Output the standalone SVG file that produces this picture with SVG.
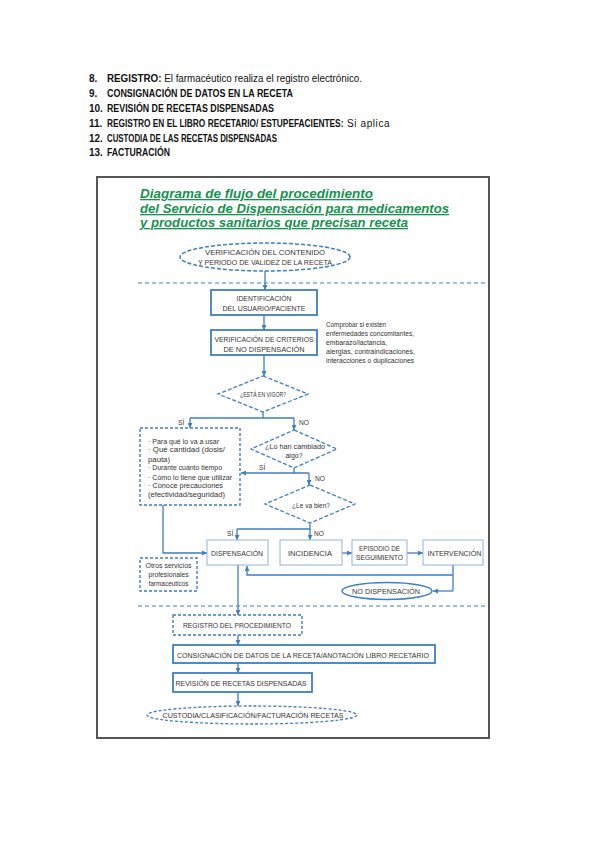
<svg xmlns="http://www.w3.org/2000/svg" width="599" height="848" viewBox="0 0 599 848">
<style>
.lst{font-family:"Liberation Sans",Arial,sans-serif;font-size:10px;fill:#111}
.b{font-weight:bold}
.n{font-weight:normal}
.ttl{font-family:"Liberation Sans",Arial,sans-serif;font-size:13px;font-weight:bold;font-style:italic;fill:#16924f;text-decoration:underline}
.t{font-family:"Liberation Sans",Arial,sans-serif;font-size:6.6px;fill:#333;text-anchor:middle}
.tl{font-family:"Liberation Sans",Arial,sans-serif;font-size:6.6px;fill:#333}
.box{fill:#fff;stroke:#3d7ec4;stroke-width:1.8}
.lbox{fill:#fff;stroke:#8fb4dd;stroke-width:1}
.dbox{fill:#fff;stroke:#3d7ec4;stroke-width:1.4;stroke-dasharray:3 2}
.dl{fill:none;stroke:#3d7ec4;stroke-width:1.2;stroke-dasharray:4 3}
.c{fill:none;stroke:#3d7ec4;stroke-width:1.3}
.ca{fill:none;stroke:#3d7ec4;stroke-width:1.3;marker-end:url(#ah)}
</style>
<defs>
<marker id="ah" viewBox="0 0 10 10" refX="10" refY="5" markerWidth="5" markerHeight="5" markerUnits="userSpaceOnUse" orient="auto"><path d="M0,0 L10,5 L0,10 z" fill="#3d7ec4"/></marker>
</defs>
<rect width="599" height="848" fill="#fff"/>
<g id="list">
<text class="lst b" x="89" y="81.5">8.</text>
<text class="lst b" x="107" y="81.5" textLength="255" lengthAdjust="spacingAndGlyphs">REGISTRO:<tspan class="n"> El farmacéutico realiza el registro electrónico.</tspan></text>
<text class="lst b" x="89" y="96.5">9.</text>
<text class="lst b" x="107" y="96.5" textLength="186" lengthAdjust="spacingAndGlyphs">CONSIGNACIÓN DE DATOS EN LA RECETA</text>
<text class="lst b" x="89" y="111.5">10.</text>
<text class="lst b" x="107" y="111.5" textLength="167" lengthAdjust="spacingAndGlyphs">REVISIÓN DE RECETAS DISPENSADAS</text>
<text class="lst b" x="89" y="126.5">11.</text>
<text class="lst b" transform="translate(107,126.5) scale(0.834,1)" x="0" y="0">REGISTRO EN EL LIBRO RECETARIO/ ESTUPEFACIENTES:</text>
<text class="lst" x="347" y="126.5" letter-spacing="0.6">Si aplica</text>
<text class="lst b" x="89" y="141.5">12.</text>
<text class="lst b" x="107" y="141.5" textLength="170" lengthAdjust="spacingAndGlyphs">CUSTODIA DE LAS RECETAS DISPENSADAS</text>
<text class="lst b" x="89" y="156">13.</text>
<text class="lst b" x="107" y="156" textLength="63" lengthAdjust="spacingAndGlyphs">FACTURACIÓN</text>
</g>
<rect id="frame" x="97" y="177" width="392" height="561" fill="none" stroke="#555" stroke-width="2"/>
<g id="title">
<text class="ttl" x="140" y="198" textLength="233" lengthAdjust="spacingAndGlyphs">Diagrama de flujo del procedimiento</text>
<text class="ttl" x="140" y="213" textLength="309" lengthAdjust="spacingAndGlyphs">del Servicio de Dispensación para medicamentos</text>
<text class="ttl" x="140" y="227" textLength="268" lengthAdjust="spacingAndGlyphs">y productos sanitarios que precisan receta</text>
</g>
<g id="separators">
<line class="dl" x1="138" y1="283" x2="486" y2="283"/>
<line class="dl" x1="138" y1="606" x2="486" y2="606"/>
</g>
<g id="connectors">
<line class="ca" x1="265" y1="271" x2="265" y2="290"/>
<line class="ca" x1="264" y1="315" x2="264" y2="330"/>
<line class="ca" x1="264" y1="355" x2="264" y2="376"/>
<polyline class="c" points="263,412 263,418"/>
<polyline class="c" points="190,418 294,418"/>
<line class="ca" x1="190" y1="418" x2="190" y2="428"/>
<line class="ca" x1="294" y1="418" x2="294" y2="430"/>
<polyline class="c" points="294,468 294,473 309,473"/>
<line class="ca" x1="294" y1="473" x2="241" y2="473"/>
<line class="ca" x1="309" y1="473" x2="309" y2="485"/>
<polyline class="c" points="310,523 310,529"/>
<polyline class="c" points="237,529 310,529"/>
<line class="ca" x1="237" y1="529" x2="237" y2="540"/>
<line class="ca" x1="310" y1="529" x2="310" y2="540"/>
<polyline class="ca" points="163,505 163,553 207,553"/>
<line class="ca" x1="342" y1="553" x2="352" y2="553"/>
<line class="ca" x1="407" y1="553" x2="423" y2="553"/>
<polyline class="c" points="453,565 453,591"/>
<polyline class="ca" points="453,575 247,575 247,566"/>
<line class="ca" x1="453" y1="591" x2="433" y2="591"/>
<line class="ca" x1="238" y1="565" x2="238" y2="615"/>
<line class="ca" x1="238" y1="635" x2="238" y2="645"/>
<line class="ca" x1="238" y1="663" x2="238" y2="673"/>
<line class="ca" x1="238" y1="692" x2="238" y2="706"/>
</g>
<g id="n-verificacion">
<ellipse cx="265" cy="257" rx="85" ry="14" fill="#fff" stroke="#3d7ec4" stroke-width="1.5" stroke-dasharray="4 2"/>
<text class="t" x="265" y="254.5" textLength="120" lengthAdjust="spacingAndGlyphs">VERIFICACIÓN DEL CONTENIDO</text>
<text class="t" x="265" y="264.5" textLength="134" lengthAdjust="spacingAndGlyphs">Y PERIODO DE VALIDEZ DE LA RECETA</text>
</g>
<g id="n-identificacion">
<rect class="box" x="211" y="290" width="106" height="25"/>
<text class="t" x="264" y="301" textLength="55" lengthAdjust="spacingAndGlyphs">IDENTIFICACIÓN</text>
<text class="t" x="264" y="311" textLength="83" lengthAdjust="spacingAndGlyphs">DEL USUARIO/PACIENTE</text>
</g>
<g id="n-criterios">
<rect class="box" x="211" y="330" width="106" height="25"/>
<text class="t" x="264" y="342" textLength="99" lengthAdjust="spacingAndGlyphs">VERIFICACIÓN DE CRITERIOS</text>
<text class="t" x="264" y="352" textLength="81" lengthAdjust="spacingAndGlyphs">DE NO DISPENSACIÓN</text>
</g>
<g id="note">
<text class="tl" x="326" y="327" textLength="60" lengthAdjust="spacingAndGlyphs">Comprobar si existen</text>
<text class="tl" x="326" y="336" textLength="88" lengthAdjust="spacingAndGlyphs">enfermedades concomitantes,</text>
<text class="tl" x="326" y="345" textLength="61" lengthAdjust="spacingAndGlyphs">embarazo/lactancia,</text>
<text class="tl" x="326" y="354" textLength="89" lengthAdjust="spacingAndGlyphs">alergias, contraindicaciones,</text>
<text class="tl" x="326" y="363" textLength="88" lengthAdjust="spacingAndGlyphs">interacciones o duplicaciones</text>
</g>
<g id="d-vigor">
<polygon points="263,376 308,394 263,412 218,394" fill="#fff" stroke="#3d7ec4" stroke-width="1.3" stroke-dasharray="4 2"/>
<text class="t" x="263" y="397" textLength="46" lengthAdjust="spacingAndGlyphs">¿ESTÁ EN VIGOR?</text>
</g>
<g id="labels">
<text class="tl" x="178" y="425" font-size="7.5">SÍ</text>
<text class="tl" x="299" y="425" font-size="7.5">NO</text>
<text class="tl" x="259" y="470" font-size="7.5">SÍ</text>
<text class="tl" x="315" y="481" font-size="7.5">NO</text>
<text class="tl" x="227" y="536" font-size="7.5">SÍ</text>
<text class="tl" x="314" y="536" font-size="7.5">NO</text>
</g>
<g id="n-preguntas">
<rect class="dbox" x="140" y="428" width="100" height="77"/>
<text class="tl" x="148" y="443.5" textLength="71" lengthAdjust="spacingAndGlyphs">· Para qué lo va a usar</text>
<text class="tl" x="148" y="451.5" textLength="77" lengthAdjust="spacingAndGlyphs">· Qué cantidad (dosis/</text>
<text class="tl" x="148" y="461.5" textLength="22" lengthAdjust="spacingAndGlyphs">pauta)</text>
<text class="tl" x="148" y="469.5" textLength="74" lengthAdjust="spacingAndGlyphs">· Durante cuánto tiempo</text>
<text class="tl" x="148" y="479.5" textLength="84" lengthAdjust="spacingAndGlyphs">· Cómo lo tiene que utilizar</text>
<text class="tl" x="148" y="487.5" textLength="75" lengthAdjust="spacingAndGlyphs">· Conoce precauciones</text>
<text class="tl" x="148" y="496.5" textLength="77" lengthAdjust="spacingAndGlyphs">(efectividad/seguridad)</text>
</g>
<g id="d-cambiado">
<polygon points="294,430 337,449 294,468 251,449" fill="#fff" stroke="#3d7ec4" stroke-width="1.3" stroke-dasharray="4 2"/>
<text class="t" x="295" y="449" textLength="60" lengthAdjust="spacingAndGlyphs">¿Lo han cambiado</text>
<text class="t" x="294" y="458" textLength="17" lengthAdjust="spacingAndGlyphs">algo?</text>
</g>
<g id="d-bien">
<polygon points="310,485 355,504 310,523 265,504" fill="#fff" stroke="#3d7ec4" stroke-width="1.3" stroke-dasharray="4 2"/>
<text class="t" x="311" y="508" textLength="38" lengthAdjust="spacingAndGlyphs">¿Le va bien?</text>
</g>
<g id="n-dispensacion">
<rect class="lbox" x="207" y="540" width="61" height="25"/>
<text class="t" x="237" y="556" textLength="52" lengthAdjust="spacingAndGlyphs">DISPENSACIÓN</text>
</g>
<g id="n-incidencia">
<rect class="lbox" x="280" y="540" width="62" height="25"/>
<text class="t" x="310" y="556" textLength="44" lengthAdjust="spacingAndGlyphs">INCIDENCIA</text>
</g>
<g id="n-episodio">
<rect class="lbox" x="352" y="540" width="55" height="25"/>
<text class="t" x="379.5" y="551" textLength="41" lengthAdjust="spacingAndGlyphs">EPISODIO DE</text>
<text class="t" x="379.5" y="560" textLength="47" lengthAdjust="spacingAndGlyphs">SEGUIMIENTO</text>
</g>
<g id="n-intervencion">
<rect class="lbox" x="423" y="540" width="60" height="25"/>
<text class="t" x="454.5" y="556" textLength="54" lengthAdjust="spacingAndGlyphs">INTERVENCIÓN</text>
</g>
<g id="n-otros">
<rect class="dbox" x="140" y="558" width="57" height="33"/>
<text class="t" x="168.5" y="567.5" textLength="46" lengthAdjust="spacingAndGlyphs">Otros servicios</text>
<text class="t" x="168.5" y="576.5" textLength="40" lengthAdjust="spacingAndGlyphs">profesionales</text>
<text class="t" x="168.5" y="585.5" textLength="40" lengthAdjust="spacingAndGlyphs">farmacéuticos</text>
</g>
<g id="n-nodisp">
<ellipse cx="387" cy="591" rx="45" ry="8.5" fill="#fff" stroke="#3d7ec4" stroke-width="1.5"/>
<text class="t" x="386" y="593.5" textLength="68" lengthAdjust="spacingAndGlyphs">NO DISPENSACIÓN</text>
</g>
<g id="n-registro">
<rect class="dbox" x="173" y="615" width="129" height="20"/>
<text class="t" x="237" y="627.5" textLength="108" lengthAdjust="spacingAndGlyphs">REGISTRO DEL PROCEDIMIENTO</text>
</g>
<g id="n-consignacion">
<rect class="box" x="173" y="645" width="262" height="18"/>
<text class="t" x="303" y="657.5" textLength="252" lengthAdjust="spacingAndGlyphs">CONSIGNACIÓN DE DATOS DE LA RECETA/ANOTACIÓN LIBRO RECETARIO</text>
</g>
<g id="n-revision">
<rect class="box" x="173" y="673" width="139" height="19"/>
<text class="t" x="241" y="685.5" textLength="131" lengthAdjust="spacingAndGlyphs">REVISIÓN DE RECETAS DISPENSADAS</text>
</g>
<g id="n-custodia">
<ellipse cx="252" cy="715" rx="105" ry="9" fill="#fff" stroke="#3d7ec4" stroke-width="1.3" stroke-dasharray="3 2"/>
<text class="t" x="253" y="717.5" textLength="181" lengthAdjust="spacingAndGlyphs">CUSTODIA/CLASIFICACIÓN/FACTURACIÓN RECETAS</text>
</g>
</svg>
